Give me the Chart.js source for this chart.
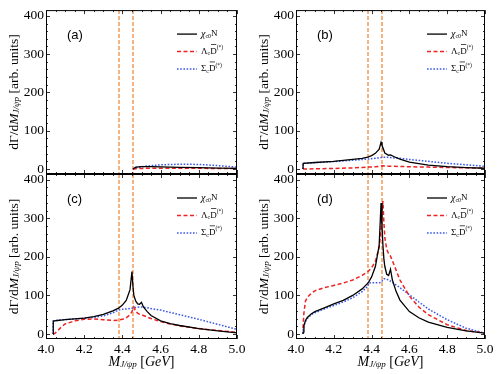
<!DOCTYPE html>
<html><head><meta charset="utf-8">
<script src="https://cdn.jsdelivr.net/npm/chart.js@4.4.1/dist/chart.umd.min.js"></script>
<style>
html,body{margin:0;padding:0;background:#fff;width:498px;height:374px;overflow:hidden}
canvas{position:absolute;left:0;top:0}
</style></head>
<body>
<canvas id="ca" width="498" height="374"></canvas>
<canvas id="cb" width="498" height="374"></canvas>
<canvas id="cc" width="498" height="374"></canvas>
<canvas id="cd" width="498" height="374"></canvas>
<script>
// ---------- data ----------
const panelLabels = ['(a)', '(b)', '(c)', '(d)'];
const seriesNames = ['χc0N', 'ΛcD̄(*)', 'ΣcD̄(*)'];
const thresholds = [4.38, 4.455];
const yTickValues = [0, 100, 200, 300, 400];
const xTickValues = [4.0, 4.2, 4.4, 4.6, 4.8, 5.0];

// panel (a)
const xA = [4.455, 4.47, 4.5, 4.55, 4.6, 4.7, 4.8, 4.9, 5.0];
const chiA = [0, 5, 6, 6, 5.5, 4.5, 3.5, 2.5, 1.5];
const lamA = [0, 1, 1.5, 2, 2, 2, 1.8, 1.5, 1.2];
const sigA = [0, 3, 6, 9, 11, 12.5, 12, 9, 5];

// panel (b)
const xB = [4.037, 4.038, 4.1, 4.2, 4.3, 4.35, 4.38, 4.4, 4.42, 4.44, 4.45, 4.455, 4.47, 4.49, 4.5, 4.52, 4.55, 4.6, 4.7, 4.8, 4.9, 5.0];
const chiB = [0, 15, 17, 20, 25, 28, 31, 35, 41, 52, 70, 62, 42, 36, 37, 32, 26, 18, 10, 6, 3.5, 2];
const lamB = [0, 0, 0.5, 1.5, 3, 4, 5, 5.5, 6, 7, 8, 8.5, 8, 7.5, 7.5, 7, 6.5, 6, 5, 4, 3, 2.5];
const sigB = [0, 15, 16.5, 19.5, 23, 25, 26, 27, 28, 29, 30, 30.5, 31, 31, 30, 29, 28, 25, 20, 15, 11, 7];

// panel (c)
const xC = [4.037, 4.038, 4.045, 4.06, 4.08, 4.1, 4.15, 4.2, 4.25, 4.3, 4.35, 4.38, 4.4, 4.42, 4.44, 4.45, 4.455, 4.46, 4.47, 4.48, 4.49, 4.5, 4.51, 4.53, 4.55, 4.6, 4.65, 4.7, 4.8, 4.9, 5.0];
const chiC = [0, 33, 34, 35, 36, 37, 39, 41, 45, 51, 60, 67, 75, 87, 115, 162, 125, 100, 85, 78, 77, 82, 70, 58, 48, 34, 27, 22, 14, 8, 3];
const lamC = [0, 0, 1, 8, 18, 26, 34, 38, 39, 37, 35, 36, 38, 42, 50, 58, 64, 70, 58, 54, 51, 50, 48, 44, 40, 32, 26, 21, 14, 9, 4];
const sigC = [0, 34, 34.5, 35.5, 36.5, 37.5, 39, 41, 43, 47, 55, 62, 64, 65, 66, 67, 68, 68.5, 69, 69.5, 70, 70, 69.5, 68, 66, 62, 56, 50, 38, 25, 12];

// panel (d)
const xD = [4.037, 4.038, 4.042, 4.05, 4.06, 4.08, 4.1, 4.15, 4.2, 4.25, 4.3, 4.35, 4.38, 4.385, 4.4, 4.42, 4.44, 4.45, 4.455, 4.46, 4.465, 4.47, 4.48, 4.49, 4.5, 4.51, 4.53, 4.55, 4.6, 4.65, 4.7, 4.8, 4.9, 5.0];
const chiD = [0, 5, 22, 35, 43, 52, 58, 68, 78, 87, 100, 117, 132, 135, 148, 175, 230, 340, 280, 230, 195, 175, 155, 152, 168, 140, 110, 88, 58, 42, 31, 17, 8, 2];
const lamD = [15, 25, 55, 85, 95, 105, 112, 120, 126, 132, 140, 152, 162, 164, 172, 188, 225, 270, 320, 345, 290, 250, 220, 208, 202, 190, 165, 140, 98, 70, 50, 24, 9, 2];
const sigD = [0, 10, 22, 32, 40, 50, 55, 65, 74, 83, 94, 110, 124, 132, 133, 133, 133, 134, 137, 141, 143, 143, 142, 140, 137, 134, 127, 120, 102, 83, 65, 37, 15, 2];

// ---------- styling / layout ----------
const SERIF = '"Liberation Serif","DejaVu Serif",serif';
const SANS = '"Liberation Sans",Arial,sans-serif';
const areas = [
  {L: 46, R: 237, T: 9, B: 174, bottom: false},
  {L: 296, R: 485, T: 9, B: 174, bottom: false},
  {L: 46, R: 237, T: 174, B: 339, bottom: true},
  {L: 296, R: 485, T: 174, B: 339, bottom: true}
];
const styles = [
  {borderColor: '#000000', borderWidth: 1.3, borderDash: []},
  {borderColor: '#ee2222', borderWidth: 1.5, borderDash: [4, 2.5]},
  {borderColor: '#3a5ae8', borderWidth: 1.5, borderDash: [1.6, 1.6]}
];

function pts(xs, ys) { return xs.map((x, i) => ({x: x, y: ys[i]})); }

function drawRich(ctx, segs, x, y) {
  for (const s of segs) {
    ctx.font = s.font;
    const w = ctx.measureText(s.t).width;
    ctx.fillText(s.t, x, y + (s.dy || 0));
    if (s.over) ctx.fillRect(x + 0.8, y + (s.dy || 0) - s.over, w - 1.2, 0.7);
    x += w;
  }
}
function richWidth(ctx, segs) {
  let w = 0;
  for (const s of segs) { ctx.font = s.font; w += ctx.measureText(s.t).width; }
  return w;
}

const legendSegs = [
  [{t: 'χ', font: `italic 10px ${SERIF}`}, {t: 'c0', font: `6px ${SERIF}`, dy: 2}, {t: 'N', font: `9px ${SERIF}`}],
  [{t: 'Λ', font: `9px ${SERIF}`}, {t: 'c', font: `6px ${SERIF}`, dy: 2}, {t: 'D', font: `9px ${SERIF}`, over: 7.5}, {t: '(*)', font: `5.5px ${SERIF}`, dy: -4}],
  [{t: 'Σ', font: `9px ${SERIF}`}, {t: 'c', font: `6px ${SERIF}`, dy: 2}, {t: 'D', font: `9px ${SERIF}`, over: 7.5}, {t: '(*)', font: `5.5px ${SERIF}`, dy: -4}]
];
const yTitleSegs = [
  {t: 'dΓ/d', font: `13.5px ${SERIF}`},
  {t: 'M', font: `italic 13.5px ${SERIF}`},
  {t: 'J/ψp', font: `italic 9px ${SERIF}`, dy: 3},
  {t: ' [arb. units]', font: `13.5px ${SERIF}`}
];
const xTitleSegs = [
  {t: 'M', font: `italic 14px ${SERIF}`},
  {t: 'J/ψp', font: `italic 9px ${SERIF}`, dy: 3},
  {t: ' [', font: `14px ${SERIF}`},
  {t: 'GeV', font: `italic 14px ${SERIF}`},
  {t: ']', font: `14px ${SERIF}`}
];

const framePlugin = {
  id: 'framePlugin',
  beforeDatasetsDraw(chart) {
    const {ctx, chartArea: a, scales: {x}} = chart;
    ctx.save();
    ctx.strokeStyle = 'rgba(246,170,115,0.9)';
    ctx.lineWidth = 2;
    ctx.setLineDash([4, 2]);
    for (const t of thresholds) {
      const px = Math.round(x.getPixelForValue(t));
      ctx.beginPath(); ctx.moveTo(px, a.top); ctx.lineTo(px, a.bottom); ctx.stroke();
    }
    ctx.restore();
  },
  afterDraw(chart, args, opts) {
    const {ctx, chartArea: a, scales: {x, y}} = chart;
    ctx.save();
    ctx.strokeStyle = '#000'; ctx.lineWidth = 1; ctx.setLineDash([]);
    ctx.strokeRect(a.left + 0.5, a.top + 0.5, a.right - a.left - 1, a.bottom - a.top - 1);
    ctx.lineWidth = 0.8;
    ctx.beginPath();
    for (let v = 0; v <= 400; v += 20) {
      const py = Math.round(y.getPixelForValue(v)) + 0.5;
      const len = v % 100 === 0 ? 4 : 2;
      ctx.moveTo(a.left, py); ctx.lineTo(a.left + len, py);
      ctx.moveTo(a.right, py); ctx.lineTo(a.right - len, py);
    }
    for (let k = 0; k <= 20; k++) {
      const v = 4 + k * 0.05;
      const px = Math.round(x.getPixelForValue(v)) + 0.5;
      const len = k % 4 === 0 ? 4 : 2;
      ctx.moveTo(px, a.bottom); ctx.lineTo(px, a.bottom - len);
      ctx.moveTo(px, a.top); ctx.lineTo(px, a.top + len);
    }
    ctx.stroke();

    // panel label
    ctx.fillStyle = '#000';
    ctx.textBaseline = 'middle';
    ctx.textAlign = 'left';
    ctx.font = `13px ${SANS}`;
    ctx.fillText(opts.label, a.left + 21, a.top + 25);

    // legend
    chart.data.datasets.forEach((ds, i) => {
      const ly = a.top + 24 + 17.5 * i;
      ctx.save();
      ctx.strokeStyle = ds.borderColor; ctx.lineWidth = ds.borderWidth;
      ctx.setLineDash(ds.borderDash);
      ctx.beginPath(); ctx.moveTo(a.left + 131, ly); ctx.lineTo(a.left + 151, ly); ctx.stroke();
      ctx.restore();
      ctx.textBaseline = 'middle';
      drawRich(ctx, legendSegs[i], a.left + 155, ly);
    });

    // y title
    ctx.save();
    const cy = (a.top + a.bottom) / 2;
    ctx.translate(a.left - 32, cy);
    ctx.rotate(-Math.PI / 2);
    ctx.textBaseline = 'middle';
    const w = richWidth(ctx, yTitleSegs);
    drawRich(ctx, yTitleSegs, -w / 2, 0);
    ctx.restore();

    // x title
    if (opts.bottom) {
      ctx.textBaseline = 'middle';
      const wx = richWidth(ctx, xTitleSegs);
      drawRich(ctx, xTitleSegs, (a.left + a.right) / 2 - wx / 2, 362);
    }
    ctx.restore();
  }
};

const panelData = [
  {x: xA, s: [chiA, lamA, sigA]},
  {x: xB, s: [chiB, lamB, sigB]},
  {x: xC, s: [chiC, lamC, sigC]},
  {x: xD, s: [chiD, lamD, sigD]}
];

['ca', 'cb', 'cc', 'cd'].forEach((id, p) => {
  const ar = areas[p];
  const xh = ar.bottom ? 30 : 1;
  new Chart(document.getElementById(id), {
    type: 'line',
    data: {
      datasets: panelData[p].s.map((ys, i) => Object.assign({
        label: seriesNames[i],
        data: pts(panelData[p].x, ys),
        fill: false, pointRadius: 0, tension: 0
      }, styles[i]))
    },
    options: {
      responsive: false, animation: false, devicePixelRatio: 1,
      layout: {padding: {left: ar.L - 40, right: 498 - ar.R, top: ar.T, bottom: 374 - ar.B - xh}},
      plugins: {legend: {display: false}, tooltip: {enabled: false}, framePlugin: {label: panelLabels[p], bottom: ar.bottom}},
      scales: {
        x: {
          type: 'linear', min: 4.0, max: 5.0,
          grid: {display: false, drawTicks: false}, border: {display: false},
          afterFit: s => { s.height = xh; },
          afterBuildTicks: s => { s.ticks = xTickValues.map(v => ({value: v})); },
          ticks: {display: ar.bottom, padding: 2, color: '#000', maxRotation: 0, autoSkip: false,
            font: {family: SERIF, size: 13.5}, callback: v => Number(v).toFixed(1)}
        },
        y: {
          type: 'linear', min: -13, max: 415,
          grid: {display: false, drawTicks: false}, border: {display: false},
          afterFit: s => { s.width = 40; },
          afterBuildTicks: s => { s.ticks = yTickValues.map(v => ({value: v})); },
          ticks: {padding: 2, color: '#000', font: {family: SERIF, size: 13.5}, callback: v => String(v)}
        }
      }
    },
    plugins: [framePlugin]
  });
});
</script>
</body></html>
